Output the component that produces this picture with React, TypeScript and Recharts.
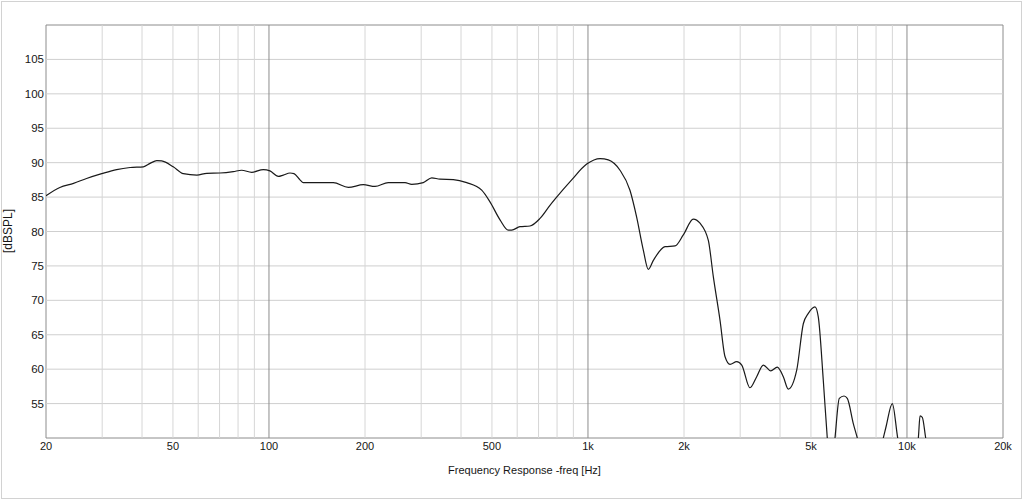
import React from 'react';
import { LineChart, Line, XAxis, YAxis, ReferenceLine, ReferenceArea, Label } from 'recharts';

const freqHz = [
  20, 22.1, 24.4, 26.8, 29.9, 33.3, 36.7, 40.4, 42.4, 44.5, 46.1, 50.1, 53.9, 59.4, 63.8, 70.2, 77.3, 82.1,
  88.3, 96.0, 100.7, 107, 110.9, 116.4, 119.8, 125.1, 128.1, 137.7, 159.1, 177.3, 197.6, 215, 236.6, 267,
  280.2, 304.6, 323.8, 343.6, 378.4, 416.8, 464.4, 493, 530, 562.6, 576.6, 612, 658, 707.4, 760, 788, 889,
  991, 1091, 1158, 1260, 1354, 1421, 1491, 1546, 1603, 1744, 1874, 1990, 2139, 2245, 2384, 2472, 2594,
  2690, 2788, 2926, 3034, 3220, 3380, 3546, 3740, 3922, 4096, 4246, 4512, 4732, 4906, 5148, 5272, 5466,
  5626, 5778, 5948, 6136, 6348, 6500, 6788, 6988, 7658, 8430, 8594, 8996, 9354, 10074, 10854, 10988,
  11170, 11448, 12692, 20000,
];

const splDb = [
  85.2, 86.4, 87.0, 87.7, 88.4, 89.0, 89.3, 89.4, 89.9, 90.3, 90.25, 89.4, 88.4, 88.2, 88.45, 88.5, 88.7, 88.9,
  88.6, 89.0, 88.8, 88.0, 88.2, 88.5, 88.4, 87.5, 87.1, 87.1, 87.1, 86.4, 86.8, 86.55, 87.1, 87.1,
  86.85, 87.1, 87.8, 87.6, 87.55, 87.1, 86.0, 84.3, 81.7, 80.2, 80.2, 80.7, 80.8, 81.9, 83.8, 84.7, 87.5,
  89.8, 90.6, 90.4, 88.9, 86.0, 82.1, 77.3, 74.5, 75.8, 77.8, 77.9, 79.5, 81.8, 81.2, 78.7, 73.4, 67.1,
  61.8, 60.7, 61.1, 60.6, 57.3, 58.9, 60.6, 59.75, 60.3, 58.9, 57.1, 59.85, 66.6, 68.1, 69.05, 67.6, 58.4,
  50, 44, 50, 55.75, 56.1, 55.75, 52.1, 50, 42, 50, 51.6, 55.0, 50, 44, 50, 53.2,
  53.0, 50, 42, 38,
];

const xTicks = [20, 50, 100, 200, 500, 1000, 2000, 5000, 10000, 20000];
const yTicks = [55, 60, 65, 70, 75, 80, 85, 90, 95, 100, 105];
const minorFreqs = [
  30, 40, 50, 60, 70, 80, 90,
  200, 300, 400, 500, 600, 700, 800, 900,
  2000, 3000, 4000, 5000, 6000, 7000, 8000, 9000,
];
const majorFreqs = [100, 1000, 10000];

const data = freqHz.map((f, i) => ({ f, spl: splDb[i] }));

const FONT = '"Liberation Sans", Arial, sans-serif';
const TEXT = '#161616';

const fmtFreq = (v: number) => (v >= 1000 ? `${v / 1000}k` : `${v}`);

export default function App() {
  return (
    <div style={{ position: 'absolute', left: 0, top: 0, width: 1024, height: 501, background: '#fff' }}>
      <div
        style={{
          position: 'absolute',
          left: 1,
          top: 1,
          width: 1021,
          height: 498,
          border: '1px solid #d2d2d2',
          boxSizing: 'border-box',
        }}
      />
      <div style={{ position: 'absolute', left: 0, top: 0 }}>
        <LineChart width={1024} height={501} data={data} margin={{ top: 25, right: 21, bottom: 33, left: 6 }}>
          {yTicks.map((v) => (
            <ReferenceLine key={`h${v}`} y={v} stroke="#cfcfcf" strokeWidth={1} />
          ))}
          {minorFreqs.map((v) => (
            <ReferenceLine key={`m${v}`} x={v} stroke="#d6d6d6" strokeWidth={1} />
          ))}
          {majorFreqs.map((v) => (
            <ReferenceLine key={`M${v}`} x={v} stroke="#8c8c8c" strokeWidth={1} />
          ))}
          <ReferenceArea x1={20} x2={20000} y1={50} y2={110} fill="none" fillOpacity={0} stroke="#8c8c8c" strokeWidth={1} />
          <XAxis
            dataKey="f"
            type="number"
            scale="log"
            domain={[20, 20000]}
            allowDataOverflow
            ticks={xTicks}
            tickFormatter={fmtFreq}
            axisLine={false}
            tickLine={false}
            tickSize={0}
            tickMargin={4}
            height={30}
            interval={0}
            tick={{ fontSize: 11, fill: TEXT, stroke: 'none', fontFamily: FONT }}
          >
            <Label
              value="Frequency Response -freq [Hz]"
              position="bottom"
              offset={-2}
              style={{ fontSize: 11, fill: TEXT, stroke: 'none', fontFamily: FONT }}
            />
          </XAxis>
          <YAxis
            type="number"
            domain={[50, 110]}
            allowDataOverflow
            ticks={yTicks}
            axisLine={false}
            tickLine={false}
            tickSize={0}
            tickMargin={2}
            width={40}
            interval={0}
            tick={{ fontSize: 11.5, fill: TEXT, stroke: 'none', fontFamily: FONT }}
            label={{
              content: () => (
                <text
                  x={12}
                  y={231}
                  transform="rotate(-90 12 231)"
                  textAnchor="middle"
                  fontSize={12}
                  fill={TEXT}
                  fontFamily={FONT}
                >
                  [dBSPL]
                </text>
              ),
            }}
          />
          <Line
            type="monotone"
            dataKey="spl"
            stroke="#1a1a1a"
            strokeWidth={1.2}
            dot={false}
            activeDot={false}
            isAnimationActive={false}
          />
        </LineChart>
      </div>
    </div>
  );
}
